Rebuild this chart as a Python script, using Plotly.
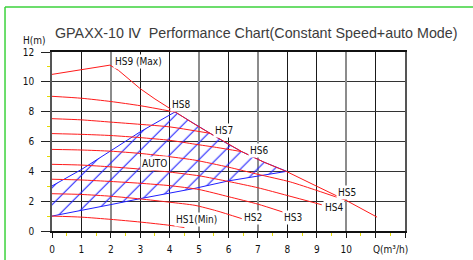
import plotly.graph_objects as go

# ---------------- data ----------------
q_hs9 = [0, 1, 1.97, 2.26, 3, 3.5, 4.18, 4.8, 5.37, 5.9, 6.45, 7.2, 7.98, 9.0, 10.0, 11.05]
h_hs9 = [10.5, 10.82, 11.12, 10.77, 9.54, 8.85, 7.98, 7.22, 6.55, 5.92, 5.32, 4.62, 3.98, 3.0, 2.05, 0.93]

q_hs8 = [0, 1, 2, 3, 4.18]
h_hs8 = [9.03, 8.9, 8.68, 8.4, 7.98]

q_hs7 = [0, 1, 2, 3, 4, 5.37]
h_hs7 = [7.53, 7.45, 7.3, 7.15, 6.98, 6.55]

q_hs6 = [0, 1, 2, 3, 4, 4.86, 5.6, 6.45]
h_hs6 = [6.53, 6.48, 6.4, 6.26, 6.08, 5.82, 5.6, 5.32]

q_hs5 = [0, 1, 2, 3, 4, 4.86, 6, 7, 8.1, 9, 10]
h_hs5 = [5.47, 5.43, 5.35, 5.2, 4.98, 4.75, 4.28, 3.8, 3.29, 2.72, 2.05]

q_hs4 = [0, 1, 2, 3, 4, 5, 6, 7, 8, 9.17]
h_hs4 = [4.47, 4.42, 4.3, 4.15, 3.95, 3.7, 3.32, 2.9, 2.38, 1.76]

q_hs3 = [0, 1, 2, 3, 4, 5, 6, 7, 7.85]
h_hs3 = [3.47, 3.42, 3.32, 3.2, 3.04, 2.78, 2.3, 1.8, 1.27]

q_hs2 = [0, 1, 2, 3, 4, 4.86, 5.6, 6.45]
h_hs2 = [2.5, 2.45, 2.33, 2.15, 1.93, 1.72, 1.35, 0.83]

q_hs1 = [0, 1, 2, 3, 4, 4.5]
h_hs1 = [1.0, 0.93, 0.78, 0.6, 0.38, 0.23]

# AUTO operating region (closed outline)
auto_q = [0, 1, 2, 3, 4.18, 4.8, 5.37, 5.9, 6.45, 7.2, 7.98, 7.1, 6, 4.86, 4, 3, 2, 1, 0]
auto_h = [3.02, 4.12, 5.38, 6.65, 7.98, 7.22, 6.55, 5.92, 5.32, 4.62, 4.0, 3.72, 3.36, 2.86, 2.55, 2.17, 1.77, 1.38, 1.0]

curves = [
    ("HS9", q_hs9, h_hs9, "linear"),
    ("HS8", q_hs8, h_hs8, "spline"),
    ("HS7", q_hs7, h_hs7, "spline"),
    ("HS6", q_hs6, h_hs6, "spline"),
    ("HS5", q_hs5, h_hs5, "spline"),
    ("HS4", q_hs4, h_hs4, "spline"),
    ("HS3", q_hs3, h_hs3, "spline"),
    ("HS2", q_hs2, h_hs2, "spline"),
    ("HS1", q_hs1, h_hs1, "spline"),
]

label_text = ["HS9 (Max)", "HS8", "HS7", "HS6", "AUTO", "HS5", "HS4", "HS3", "HS2", "HS1(Min)"]
label_q = [2.93, 4.37, 5.83, 7.02, 3.49, 10.02, 9.57, 8.18, 6.82, 4.91]
label_h = [11.37, 8.49, 6.75, 5.38, 4.54, 2.56, 1.55, 0.88, 0.92, 0.78]

x_tickvals = list(range(0, 13))
x_ticktext = [str(v) for v in range(0, 11)] + ["", ""]
y_tickvals = list(range(0, 13, 2))
x_minor = [v + 0.5 for v in range(0, 12)]
y_minor = list(range(1, 12, 2))
gray_grid_q = [0, 2, 5, 7, 10]

title_text = "GPAXX-10 \u2163\u00a0 Performance Chart(Constant Speed+auto Mode)"

COND = "DejaVu Sans Condensed, Liberation Sans Narrow, Roboto Condensed, DejaVu Sans, sans-serif"

# ---------------- figure ----------------
fig = go.Figure()

fig.add_trace(go.Scatter(
    x=auto_q, y=auto_h, mode="lines", fill="toself",
    line=dict(color="#1f1fff", width=1),
    fillcolor="rgba(0,0,0,0)",
    fillpattern=dict(shape="/", size=12, solidity=0.09, fgcolor="#1f1fff",
                     bgcolor="rgba(0,0,0,0)", fillmode="replace"),
    hoverinfo="skip", showlegend=False,
))

for name, qs, hs, shp in curves:
    fig.add_trace(go.Scatter(
        x=qs, y=hs, mode="lines", name=name,
        line=dict(color="#ff1a1a", width=1, shape=shp, smoothing=0.6),
        showlegend=False,
    ))

# dummy trace so the overlay axis (gray grid lines) is drawn
fig.add_trace(go.Scatter(x=[None], y=[None], xaxis="x2", showlegend=False, hoverinfo="skip"))

for t, q, h in zip(label_text, label_q, label_h):
    fig.add_annotation(x=q, y=h, xref="x", yref="y", text=t, showarrow=False,
                       xanchor="center", yanchor="middle",
                       font=dict(family=COND, size=10, color="#111"),
                       bgcolor="white", borderpad=1)

fig.add_annotation(x=0.5807, y=1.106, xref="paper", yref="paper", text=title_text,
                   xanchor="center", yanchor="middle", showarrow=False,
                   font=dict(family="Liberation Sans, Arial, sans-serif", size=14.3, color="#3c3c3c"))
fig.add_annotation(x=-0.0496, y=1.064, xref="paper", yref="paper", text="H(m)",
                   xanchor="center", yanchor="middle", showarrow=False,
                   font=dict(family=COND, size=10, color="#111"))
fig.add_annotation(x=11.5, y=-0.1045, xref="x", yref="paper", text="Q(m\u00b3/h)",
                   xanchor="center", yanchor="middle", showarrow=False,
                   font=dict(family=COND, size=10, color="#111"))

# green frame
fig.add_shape(type="line", xref="paper", yref="paper", x0=-0.1331, x1=1.25, y0=1.2514, y1=1.2514,
              line=dict(color="#3bd23b", width=1.5))
fig.add_shape(type="line", xref="paper", yref="paper", x0=-0.1331, x1=-0.1331, y0=1.2514, y1=-0.25,
              line=dict(color="#3bd23b", width=1.5))

fig.update_layout(
    width=473, height=260,
    margin=dict(l=52, r=68, t=52, b=29, autoexpand=False),
    paper_bgcolor="white", plot_bgcolor="white",
    showlegend=False,
    xaxis=dict(
        range=[0, 12], tickmode="array", tickvals=x_tickvals, ticktext=x_ticktext,
        automargin=False,
        showgrid=True, gridcolor="#1a1a1a", gridwidth=1,
        ticks="outside", ticklen=5, tickcolor="#1a1a1a", tickwidth=1,
        ticklabelstandoff=3,
        tickfont=dict(family=COND, size=10, color="#111"),
        showline=True, mirror=True, linecolor="#111", linewidth=1.5,
        zeroline=False, fixedrange=True,
        minor=dict(tickmode="array", tickvals=x_minor, ticks="outside", ticklen=3,
                   tickcolor="#e6dc00", tickwidth=1, showgrid=False),
    ),
    xaxis2=dict(
        range=[0, 12], overlaying="x", anchor="y", side="bottom", automargin=False,
        tickmode="array", tickvals=gray_grid_q, showticklabels=False, ticks="",
        showgrid=True, gridcolor="#8c8c8c", gridwidth=1.6, zeroline=False, showline=False,
    ),
    yaxis=dict(
        range=[0, 12], tickmode="array", tickvals=y_tickvals,
        automargin=False,
        showgrid=True, gridcolor="#333", gridwidth=1,
        ticks="outside", ticklen=9, tickcolor="#222", tickwidth=1,
        ticklabelstandoff=5,
        tickfont=dict(family=COND, size=10, color="#111"),
        showline=True, mirror=True, linecolor="#555", linewidth=1.5,
        zeroline=False, fixedrange=True,
        minor=dict(tickmode="array", tickvals=y_minor, ticks="outside", ticklen=3,
                   tickcolor="#e6dc00", tickwidth=1, showgrid=False),
    ),
)

fig.write_html("out.html", config={"displayModeBar": False},
               post_script="document.body.style.margin='0px';")
